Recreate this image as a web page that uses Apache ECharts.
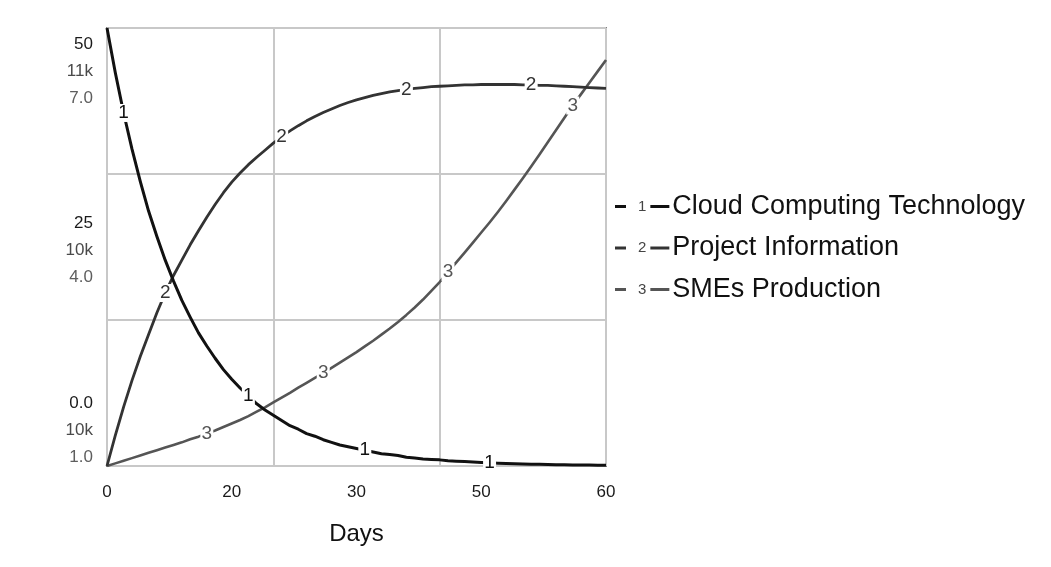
<!DOCTYPE html>
<html><head><meta charset="utf-8">
<script src="https://cdn.jsdelivr.net/npm/echarts/dist/echarts.min.js"></script>
<style>html,body{margin:0;padding:0;background:#fff}#c{width:1051px;height:567px}</style>
</head><body><div id="c"></div>
<script>
const days = [0,1,2,3,4,5,6,7,8,9,10,11,12,13,14,15,16,17,18,19,20,21,22,23,24,25,26,27,28,29,30,31,32,33,34,35,36,37,38,39,40,41,42,43,44,45,46,47,48,49,50,51,52,53,54,55,56,57,58,59,60];
const cloudComputing = [50,44.9,40.3,36.2,32.5,29.1,26.2,23.5,21.1,18.9,17.0,15.2,13.7,12.3,11.0,9.9,8.9,8.0,7.1,6.4,5.8,5.2,4.6,4.2,3.7,3.4,3.0,2.7,2.4,2.2,2.0,1.8,1.6,1.4,1.3,1.2,1.0,0.9,0.8,0.75,0.7,0.6,0.55,0.5,0.45,0.4,0.36,0.32,0.29,0.26,0.23,0.21,0.19,0.17,0.15,0.14,0.12,0.11,0.1,0.09,0.08];
const projectInfo = [10000,10070,10135,10195,10250,10300,10350,10395,10435,10470,10505,10537,10568,10597,10624,10648,10669,10688,10705,10721,10737,10752,10765,10777,10788,10798,10807,10815,10823,10830,10836,10841,10846,10850,10854,10857,10860,10862,10864,10866,10867,10868,10869,10870,10870,10871,10871,10871,10871,10871,10870,10870,10869,10869,10868,10867,10866,10865,10864,10863,10862];
const smesProduction = [1.000,1.036,1.072,1.108,1.144,1.18,1.216,1.252,1.288,1.324,1.366,1.402,1.444,1.486,1.534,1.582,1.63,1.684,1.744,1.804,1.87,1.936,2.002,2.074,2.14,2.206,2.272,2.344,2.416,2.488,2.56,2.638,2.716,2.8,2.884,2.974,3.07,3.172,3.28,3.4,3.52,3.658,3.79,3.922,4.06,4.198,4.336,4.48,4.63,4.786,4.942,5.104,5.266,5.434,5.602,5.77,5.938,6.094,6.25,6.406,6.562];
const seriesNames = ['Cloud Computing Technology','Project Information','SMEs Production'];
const seriesValues = [cloudComputing, projectInfo, smesProduction];
const markerDays = [[2,17,31,46],[7,21,36,51],[12,26,41,56]];
const xTickValues = [0,15,30,45,60];
const xTickLabels = ['0','20','30','50','60'];
const yTickValues = [4.1,24.65,45.1];
const yLabelsCloud = ['0.0','25','50'];
const yLabelsProject = ['10k','10k','11k'];
const yLabelsSmes = ['1.0','4.0','7.0'];
const yRanges = [[0,50],[10000,11000],[1,7]];

const colors = ['#111111','#333333','#555555'];
const widths = [3,2.8,2.6];
const FONT = '"Liberation Sans", Arial, sans-serif';

const chart = echarts.init(document.getElementById('c'));
const series = seriesValues.map((vals, i) => ({
  name: seriesNames[i],
  type: 'line',
  xAxisIndex: 0,
  yAxisIndex: i,
  data: days.map((d, k) => [d, vals[k]]),
  symbol: 'none',
  smooth: false,
  lineStyle: {color: colors[i], width: widths[i], join: 'round'},
  itemStyle: {color: colors[i]},
  z: 3 - i,
  markPoint: {
    symbol: 'rect',
    symbolSize: [13, 18],
    itemStyle: {color: '#ffffff'},
    label: {show: true, position: 'inside', formatter: String(i + 1), color: colors[i], fontSize: 19, fontFamily: FONT},
    data: markerDays[i].map(d => ({coord: [d, vals[days.indexOf(d)]]}))
  }
}));

const legendRich = {
  n: {fontSize: 15, color: '#444', padding: [0, 4, 0, 7], fontFamily: FONT},
  t: {fontSize: 27, color: '#111', padding: [0, 0, 0, 3], lineHeight: 30, fontFamily: FONT}
};
colors.forEach((c, i) => { legendRich['d' + i] = {width: 19, height: 3, backgroundColor: c, fontSize: 1, lineHeight: 3}; });

const yAxes = yRanges.map((r, i) => ({
  type: 'value',
  min: r[0], max: r[1],
  show: i === 0,
  position: 'left',
  interval: i === 0 ? 50 / 3 : undefined,
  axisLine: {show: false},
  axisTick: {show: false},
  splitLine: {show: i === 0, lineStyle: {color: '#c8c8c8', width: 2}},
  axisLabel: i === 0 ? {
    customValues: yTickValues,
    margin: 14,
    fontFamily: FONT,
    formatter: function (val) {
      const k = yTickValues.findIndex(v => Math.abs(v - val) < 1e-6);
      if (k < 0) return '';
      return '{a|' + yLabelsCloud[k] + '}\n{b|' + yLabelsProject[k] + '}\n{c|' + yLabelsSmes[k] + '}';
    },
    rich: {
      a: {fontSize: 17, color: '#1a1a1a', lineHeight: 27, align: 'right', fontFamily: FONT},
      b: {fontSize: 17, color: '#4a4a4a', lineHeight: 27, align: 'right', fontFamily: FONT},
      c: {fontSize: 17, color: '#5e5e5e', lineHeight: 27, align: 'right', fontFamily: FONT}
    }
  } : {show: false}
}));

chart.setOption({
  animation: false,
  textStyle: {fontFamily: FONT},
  grid: {left: 107, right: 445, top: 28, bottom: 101, show: true, borderColor: '#808080', borderWidth: 2, containLabel: false},
  legend: {
    orient: 'vertical',
    left: 610, top: 188,
    icon: 'rect', itemWidth: 11, itemHeight: 3, itemGap: 14.5,
    data: seriesNames,
    formatter: function (name) {
      const i = seriesNames.indexOf(name);
      return '{n|' + (i + 1) + '}{d' + i + '| }{t|' + name + '}';
    },
    textStyle: {rich: legendRich}
  },
  xAxis: {
    type: 'value', min: 0, max: 60, interval: 20,
    name: 'Days', nameLocation: 'middle', nameGap: 56,
    nameTextStyle: {fontSize: 24, color: '#111', fontFamily: FONT},
    axisLine: {show: false}, axisTick: {show: false},
    splitLine: {show: true, lineStyle: {color: '#c8c8c8', width: 2}},
    axisLabel: {
      customValues: xTickValues,
      margin: 18, fontSize: 17, color: '#1a1a1a', fontFamily: FONT,
      formatter: function (val) {
        const k = xTickValues.indexOf(val);
        return k < 0 ? '' : xTickLabels[k];
      }
    }
  },
  yAxis: yAxes,
  series: series
});
</script></body></html>
